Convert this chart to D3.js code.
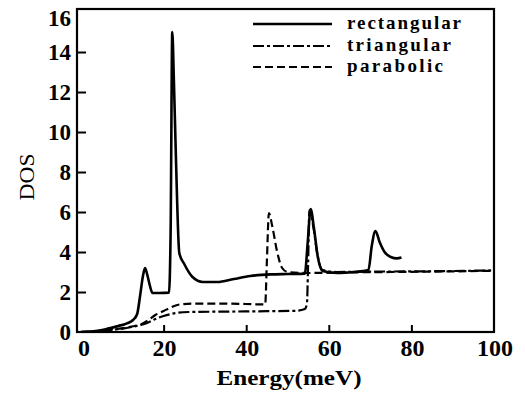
<!DOCTYPE html>
<html>
<head>
<meta charset="utf-8">
<script src="https://cdn.jsdelivr.net/npm/d3@7/dist/d3.min.js"></script>
<style>
  html, body { margin: 0; padding: 0; background: #fff; }
  svg { display: block; }
</style>
</head>
<body>
<svg id="chart" width="525" height="394"></svg>
<script>
// ---- data ----
const xTicks = [0, 20, 40, 60, 80, 100];
const yTicks = [0, 2, 4, 6, 8, 10, 12, 14, 16];
const seriesNames = ["rectangular", "triangular", "parabolic"];

const rectangular = [
  [0,0],[3,0.04],[6,0.14],[9,0.3],[11,0.42],[12.6,0.6],[13.6,0.9],[14.3,1.8],[15,2.8],[15.5,3.2],[16,2.9],[16.7,2.3],[17.3,1.95],
  [19,1.95],[21.3,1.97],[21.7,5],[22.1,15.0],[22.5,12.5],[23,8.6],[23.8,3.95],[25,3.4],[27,2.75],[29.5,2.5],
  [33,2.5],[37,2.65],[41,2.8],[46,2.88],[50,2.9],[54.2,2.92],[54.9,4.5],[55.6,6.15],[56.4,5.2],[57.3,3.8],[58.5,3.05],
  [62,2.95],[66,3.0],[69.6,3.1],[70.4,4.3],[71.3,5.05],[72.3,4.5],[73.5,4.0],[75,3.75],[76.5,3.68],[77.6,3.72]
];
const triangular = [
  [0,0],[4,0.04],[8,0.12],[11,0.2],[13,0.28],[14.5,0.35],[16,0.45],[18,0.65],[20,0.8],[23,0.95],[26,1.0],
  [35,1.02],[45,1.04],[52,1.06],[54.2,1.15],[54.7,1.4],[55.0,3.5],[55.3,6.1],[56.3,5.2],[57.3,3.8],[58.5,3.1],
  [62,3.0],[70,3.02],[80,3.03],[90,3.05],[100,3.08]
];
const parabolic = [
  [0,0],[4,0.05],[8,0.14],[11,0.22],[13,0.3],[14.5,0.38],[16,0.55],[18,0.85],[20,1.05],[22,1.25],[24,1.38],[27,1.42],
  [35,1.42],[44.6,1.38],[45.0,3.5],[45.5,5.95],[46.3,5.3],[47.5,4.0],[48.7,3.2],[50,3.0],
  [55,2.95],[65,2.98],[75,3.0],[85,3.02],[100,3.06]
];

// ---- layout ----
const svg = d3.select("#chart");
const frame = { left: 77, right: 494, top: 9, bottom: 332 };
const x = d3.scaleLinear().domain([0, 100]).range([81, 494]);
const y = d3.scaleLinear().domain([0, 16]).range([332, 12]);

const serif = "'Liberation Serif', 'DejaVu Serif', serif";

// axes (ticks inward)
const gx = svg.append("g").attr("transform", `translate(0,${frame.bottom})`)
  .call(d3.axisBottom(x).tickValues(xTicks.slice(1, -1)).tickSize(-7).tickFormat(""));
gx.select(".domain").remove();
gx.selectAll("line").attr("stroke", "#000").attr("stroke-width", 2);

const gy = svg.append("g").attr("transform", `translate(${frame.left},0)`)
  .call(d3.axisLeft(y).tickValues(yTicks.slice(1, -1)).tickSize(-9).tickFormat(""));
gy.select(".domain").remove();
gy.selectAll("line").attr("stroke", "#000").attr("stroke-width", 2);

// tick labels
svg.append("g").selectAll("text").data(xTicks).join("text")
  .attr("x", d => x(d) + (d === 0 ? 3 : 1))
  .attr("y", 356)
  .attr("text-anchor", "middle")
  .attr("font-family", serif).attr("font-weight", "bold").attr("font-size", 24)
  .text(d => d);

svg.append("g").selectAll("text").data(yTicks).join("text")
  .attr("x", 71)
  .attr("y", d => (d === 16 ? y(d) + 14 : y(d) + 8))
  .attr("text-anchor", "end")
  .attr("font-family", serif).attr("font-weight", "bold").attr("font-size", 23)
  .text(d => d);

// frame
svg.append("rect")
  .attr("x", frame.left).attr("y", frame.top)
  .attr("width", frame.right - frame.left).attr("height", frame.bottom - frame.top)
  .attr("fill", "none").attr("stroke", "#000").attr("stroke-width", 2.2);

// axis titles
svg.append("text")
  .attr("x", 289).attr("y", 385)
  .attr("text-anchor", "middle")
  .attr("font-family", serif).attr("font-weight", "bold").attr("font-size", 22)
  .attr("textLength", 145).attr("lengthAdjust", "spacingAndGlyphs")
  .text("Energy(meV)");

svg.append("text")
  .attr("transform", "translate(34,177) rotate(-90)")
  .attr("text-anchor", "middle")
  .attr("font-family", serif).attr("font-size", 22)
  .attr("textLength", 47).attr("lengthAdjust", "spacingAndGlyphs")
  .text("DOS");

// curves
const line = d3.line().x(d => x(d[0])).y(d => y(d[1])).curve(d3.curveMonotoneX);
const styles = {
  rectangular: { data: rectangular, dash: null, w: 2.6 },
  triangular: { data: triangular, dash: "11,3,3,3", w: 2.2 },
  parabolic: { data: parabolic, dash: "8,4", w: 2.2 }
};
svg.append("clipPath").attr("id", "plotclip").append("rect")
  .attr("x", frame.left).attr("y", frame.top)
  .attr("width", frame.right - frame.left).attr("height", frame.bottom - frame.top);

const plot = svg.append("g").attr("clip-path", "url(#plotclip)");
["parabolic", "triangular", "rectangular"].forEach(name => {
  const s = styles[name];
  plot.append("path")
    .attr("d", line(s.data))
    .attr("fill", "none")
    .attr("stroke", "#000")
    .attr("stroke-width", s.w)
    .attr("stroke-linejoin", "round")
    .attr("stroke-dasharray", s.dash);
});

// legend
const legY = [24, 46, 67];
const legText = [114, 104, 96];
seriesNames.forEach((name, i) => {
  const s = styles[name];
  svg.append("line")
    .attr("x1", 253).attr("x2", 332)
    .attr("y1", legY[i]).attr("y2", legY[i])
    .attr("stroke", "#000").attr("stroke-width", s.w)
    .attr("stroke-dasharray", s.dash);
  svg.append("text")
    .attr("x", 347).attr("y", legY[i] + 5)
    .attr("font-family", serif).attr("font-size", 19).attr("font-weight", "bold")
    .attr("textLength", legText[i]).attr("lengthAdjust", "spacing")
    .text(name);
});
</script>
</body>
</html>
